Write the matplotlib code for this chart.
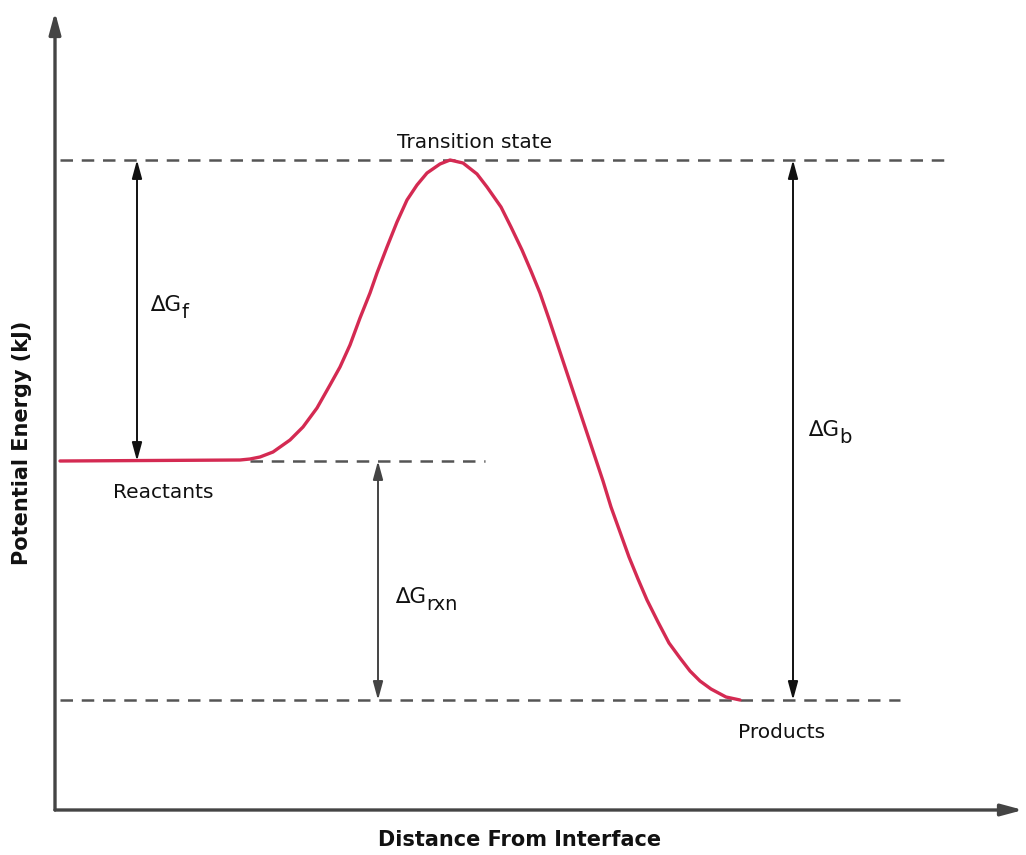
import matplotlib.pyplot as plt

# energy profile: distance from the axis origin, energy above the x axis
dist = [5, 185, 195, 205, 218, 235, 248, 262, 275, 285, 295, 305, 315, 322, 332,
        342, 352, 362, 372, 385, 395, 408, 422, 432, 446, 456, 467, 476, 485, 494,
        503, 512, 521, 530, 539, 548, 556, 565, 574, 583, 592, 603, 614, 625, 635,
        645, 656, 671, 685]
energy = [349, 350, 351, 353, 358, 370, 383, 402, 425, 443, 465, 492, 517, 537, 563,
          588, 610, 625, 637, 646, 650, 647, 636, 623, 603, 583, 560, 539, 517, 491,
          464, 437, 410, 383, 356, 329, 303, 278, 253, 231, 210, 188, 167, 152, 139,
          129, 121, 113, 110]

# levels
E_ts = 650
E_react = 349
E_prod = 110

curve_color = '#d42a52'
dash_color = '#555555'
text_color = '#111111'

fig = plt.figure(figsize=(10.26, 8.55), dpi=100)
ax = fig.add_axes([0, 0, 1, 1])
ax.set_xlim(-55, 971)
ax.set_ylim(-45, 810)
ax.axis('off')

# axes with arrowheads
axis_arrow = dict(arrowstyle='-|>,head_length=1.3,head_width=0.35',
                  color='#444444', lw=2.4, shrinkA=0, shrinkB=0)
ax.annotate('', xy=(0, 798), xytext=(0, 0), arrowprops=axis_arrow)
ax.annotate('', xy=(968, 0), xytext=(0, 0), arrowprops=axis_arrow)

# dashed reference levels
dash = dict(color=dash_color, lw=1.8, dashes=(5, 3.5))
ax.plot([5, 890], [E_ts, E_ts], **dash)
ax.plot([195, 430], [E_react, E_react], **dash)
ax.plot([5, 845], [E_prod, E_prod], **dash)

# energy curve
ax.plot(dist, energy, color=curve_color, lw=2.4, solid_capstyle='round',
        solid_joinstyle='round', zorder=3)

# double-headed arrows
def span(x, y0, y1, color):
    ax.annotate('', xy=(x, y0), xytext=(x, y1),
                arrowprops=dict(arrowstyle='<|-|>,head_length=1.1,head_width=0.3',
                                color=color, lw=1.4, shrinkA=0, shrinkB=0), zorder=4)

span(82, E_ts, E_react, '#111111')
span(323, E_react, E_prod, '#444444')
span(738, E_ts, E_prod, '#111111')

fs = 14.5
ax.text(420, 668, 'Transition state', fontsize=fs, ha='center', va='center', color=text_color)
ax.text(58, 318, 'Reactants', fontsize=fs, ha='left', va='center', color=text_color)
ax.text(683, 78, 'Products', fontsize=fs, ha='left', va='center', color=text_color)

# delta G labels with a lowered subscript
def delta(x, y, sub):
    t = ax.text(x, y, '\u2206G', fontsize=fs + 1, ha='left', va='center', color=text_color)
    ax.annotate(sub, xy=(1.0, 0.15), xycoords=t, xytext=(0, 0), textcoords='offset points',
                fontsize=fs - 0.5, ha='left', va='center', color=text_color)

delta(95, 505, 'f')
delta(753, 380, 'b')
delta(340, 213, 'rxn')

ax.text(-33, 367, 'Potential Energy (kJ)', fontsize=15, fontweight='bold', rotation=90,
        ha='center', va='center', color=text_color)
ax.text(465, -30, 'Distance From Interface', fontsize=15, fontweight='bold',
        ha='center', va='center', color=text_color)

fig.savefig('out.png', dpi=100)
